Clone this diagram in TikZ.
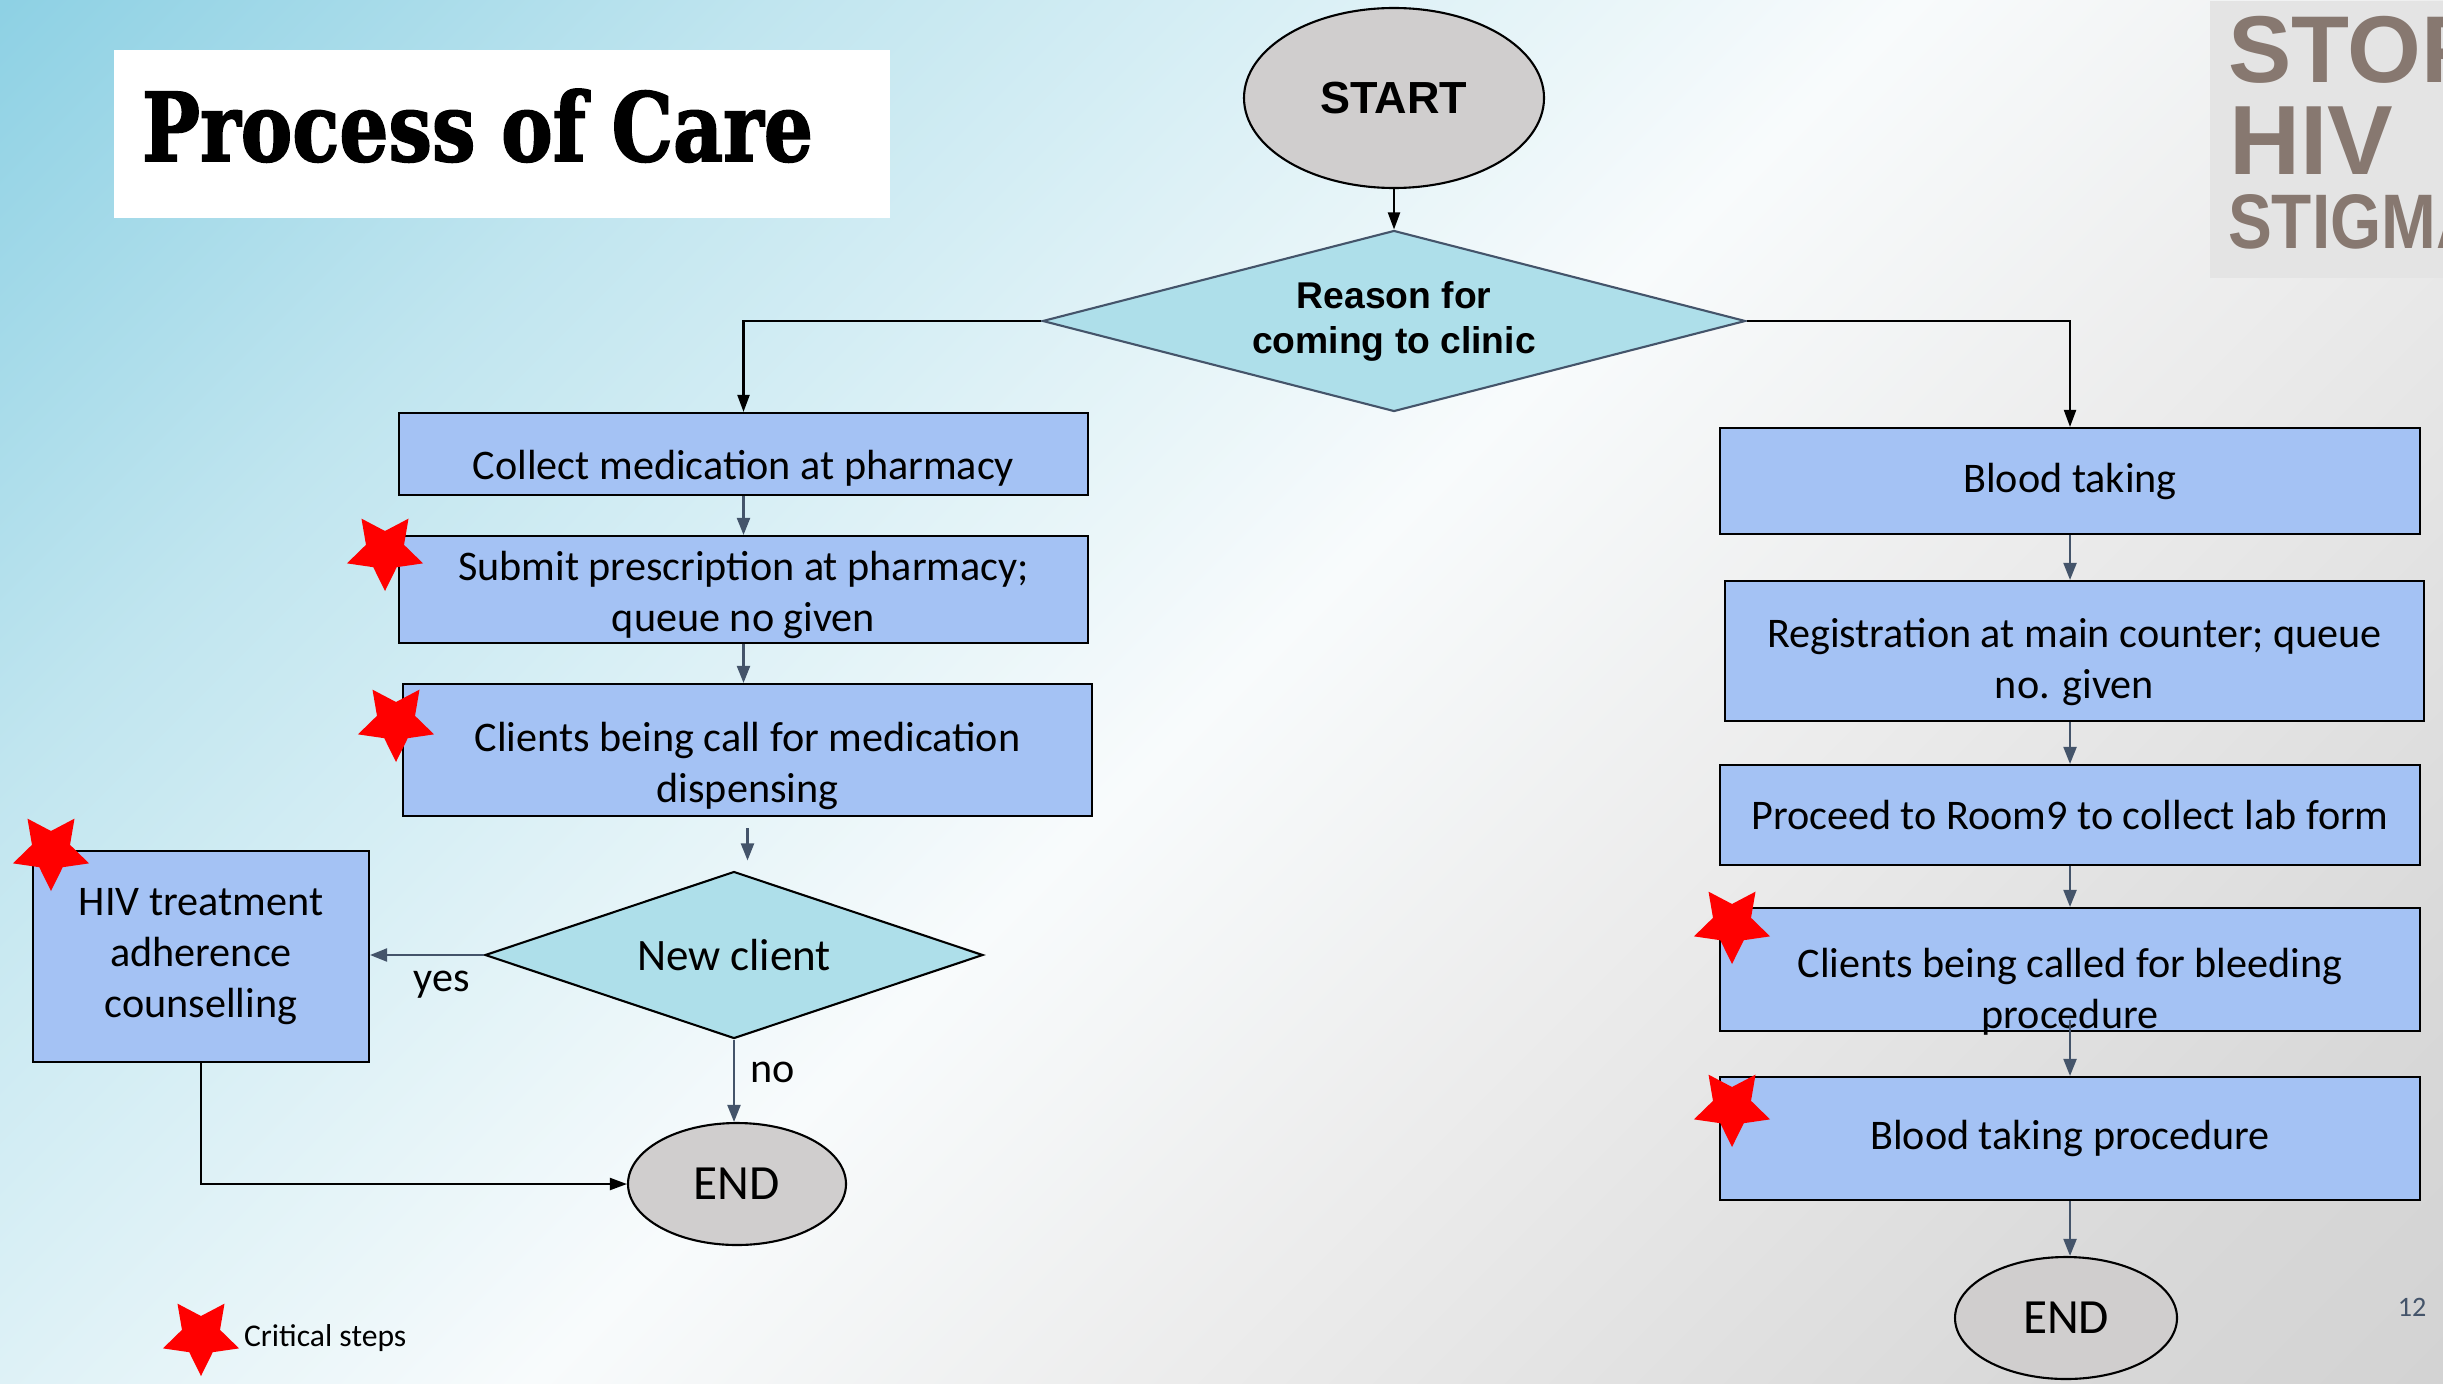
\documentclass[tikz,border=0pt]{standalone}
\usepackage{graphicx}
\usepackage{fontspec}
\setmainfont{Carlito}
\newfontfamily\arialfont{Liberation Sans}
\newfontfamily\titlefont{DejaVu Serif}[BoldFeatures={FakeBold=2}]
\usetikzlibrary{shapes.geometric,arrows.meta}
\definecolor{bgblue}{HTML}{8ED1E4}
\definecolor{bgbluelight}{HTML}{C0E5EF}
\definecolor{bgbluepale}{HTML}{D8EFF5}
\definecolor{bgwhite}{HTML}{F8FBFC}
\definecolor{bggreylight}{HTML}{ECECEC}
\definecolor{bggrey}{HTML}{D3D3D3}
\definecolor{boxblue}{HTML}{A4C2F4}
\definecolor{diamondcyan}{HTML}{AEDFEA}
\definecolor{endgrey}{HTML}{D0CECE}
\definecolor{slate}{HTML}{44546A}
\definecolor{logogrey}{HTML}{E4E4E4}
\definecolor{logobrown}{HTML}{877870}
\pgfdeclareverticalshading{slidebg}{100bp}{color(0bp)=(bggrey); color(14.6bp)=(bggrey); color(21.7bp)=(bggrey!80!bggreylight); color(38bp)=(bggreylight); color(50bp)=(bgwhite); color(62bp)=(bgbluepale); color(71.2bp)=(bgbluelight); color(85.4bp)=(bgblue); color(100bp)=(bgblue)}

\begin{document}
\begin{tikzpicture}[line width=0.6pt]
	\tikzset{
		stepbox/.style 2 args={draw=black, fill=boxblue, rectangle, minimum width=#1, minimum height=#2, inner sep=0pt, align=center, font=\fontsize{12}{14.5}\selectfont},
		steptext/.style={align=center, inner sep=0pt, font=\fontsize{12}{14.5}\selectfont},
		terminal/.style 2 args={draw=black, fill=endgrey, ellipse, minimum width=#1, minimum height=#2, inner sep=0pt},
		decision/.style 2 args={diamond, fill=diamondcyan, minimum width=#1, minimum height=#2, inner sep=0pt, aspect=3.5, align=center},
		critical/.style={star, star points=5, star point ratio=2.0, shape border rotate=180, fill=red, minimum size=0.8cm, inner sep=0pt},
		flow/.style={draw=slate, -{Triangle[length=0.17cm,width=0.13cm]}},
		mainflow/.style={draw=black, -{Triangle[length=0.17cm,width=0.12cm]}}
	}
	\useasboundingbox (0,0) rectangle (24.43,-13.83);
	\shade[shading=slidebg, shading angle=45] (0,0) rectangle (24.43,-13.83);
	
	\node[fill=white, minimum width=7.76cm, minimum height=1.68cm, inner xsep=0.28cm, text width=7.2cm, align=left, text depth=0.18cm] (title) at (5.02,-1.34) {\resizebox{6.71cm}{0.72cm}{\titlefont\bfseries Process of Care}};
	
	\begin{scope}
		\clip (22.09,0) rectangle (24.43,-2.77);
		\node[fill=logogrey, minimum width=2.34cm, minimum height=2.77cm, anchor=north west, inner sep=0pt] (logo) at (22.09,0) {};
		\node[anchor=base west, inner sep=0pt, text=logobrown, font=\arialfont\bfseries\fontsize{27}{27}\selectfont] (stop) at (22.27,-0.82) {STOP};
		\node[anchor=base west, inner sep=0pt, text=logobrown, font=\arialfont\bfseries\fontsize{28}{28}\selectfont] (hivlogo) at (22.28,-1.75) {HIV};
		\node[anchor=base west, inner sep=0pt, text=logobrown, font=\arialfont\bfseries\fontsize{22}{22}\selectfont] (stigma) at (22.27,-2.48) {\scalebox{0.85}[1]{STIGMA}};
	\end{scope}
	
	\node[terminal={3.00cm}{1.80cm}, font=\arialfont\bfseries\fontsize{12.8}{15}\selectfont] (start) at (13.94,-0.98) {START};
	\node[decision={7.03cm}{1.81cm}, draw=slate, font=\arialfont\bfseries\fontsize{10.6}{12.8}\selectfont] (reason) at (13.94,-3.21) {Reason for\\coming to clinic};
	
	\node[stepbox={6.89cm}{0.82cm}, label={[steptext, yshift=-0.14cm]center:Collect medication at pharmacy}] (collect) at (7.435,-4.54) {};
	\node[stepbox={6.89cm}{1.07cm}, label={[steptext, yshift=-0.05cm]center:{Submit prescription at pharmacy;\\queue no given}}] (submit) at (7.435,-5.895) {};
	\node[stepbox={6.89cm}{1.32cm}, label={[steptext, yshift=-0.16cm]center:{Clients being call for medication\\dispensing}}] (dispense) at (7.475,-7.50) {};
	\node[decision={4.98cm}{1.67cm}, draw=black, font=\fontsize{12.8}{15}\selectfont] (newclient) at (7.34,-9.55) {New client};
	\node[stepbox={3.36cm}{2.11cm}] (hiv) at (2.01,-9.565) {HIV treatment\\adherence\\counselling};
	\node[terminal={2.18cm}{1.22cm}, font=\fontsize{14}{16}\selectfont] (endleft) at (7.37,-11.84) {END};
	
	\node[stepbox={7.00cm}{1.06cm}] (blood) at (20.70,-4.81) {Blood taking};
	\node[stepbox={6.99cm}{1.40cm}, label={[steptext, yshift=-0.11cm]center:{Registration at main counter; queue\\no. given}}] (register) at (20.745,-6.51) {};
	\node[stepbox={7.00cm}{1.00cm}] (labform) at (20.70,-8.15) {Proceed to Room9 to collect lab form};
	\node[stepbox={7.00cm}{1.23cm}, label={[steptext, yshift=-0.22cm]center:{Clients being called for bleeding\\procedure}}] (bleeding) at (20.70,-9.695) {};
	\node[stepbox={7.00cm}{1.23cm}] (procedure) at (20.70,-11.385) {Blood taking procedure};
	\node[terminal={2.22cm}{1.22cm}, font=\fontsize{14}{16}\selectfont] (endright) at (20.66,-13.18) {END};
	
	\draw[mainflow] (start) -- (reason);
	\draw[mainflow] (reason.west) -| (collect.north);
	\draw[mainflow] (reason.east) -| (blood.north);
	
	\draw[flow] (collect) -- (submit);
	\draw[flow] (submit.south) -- (submit.south |- dispense.north);
	\draw[flow, shorten <=0.11cm, shorten >=0.1cm] (dispense.south) -- (dispense.south |- newclient.north);
	\draw[flow] (newclient.west) -- (newclient.west -| hiv.east);
	\draw[flow] (newclient.south) -- (newclient.south |- endleft.north);
	\draw[mainflow] (hiv.south) |- (endleft.west);
	\node[font=\fontsize{12}{14}\selectfont] (yes) at (4.42,-9.85) {yes};
	\node[font=\fontsize{12}{14}\selectfont] (no) at (7.73,-10.72) {no};
	
	\draw[flow] (blood.south) -- (blood.south |- register.north);
	\draw[flow] (labform.north |- register.south) -- (labform.north);
	\draw[flow] (labform) -- (bleeding);
	\draw[flow, shorten <=-0.12cm] (bleeding) -- (procedure);
	\draw[flow] (procedure.south) -- (procedure.south |- endright.north);
	
	\node[critical] (star1) at (3.85,-5.51) {};
	\node[critical] (star2) at (3.96,-7.22) {};
	\node[critical] (star3) at (0.51,-8.51) {};
	\node[critical] (star4) at (17.32,-9.24) {};
	\node[critical] (star5) at (17.32,-11.07) {};
	\node[critical] (star6) at (2.01,-13.36) {};
	\node[anchor=west, inner sep=0pt, font=\fontsize{9}{11}\selectfont] (legend) at (2.43,-13.38) {Critical steps};
	\node[text=slate, font=\fontsize{8}{10}\selectfont] (pagenum) at (24.12,-13.07) {12};
\end{tikzpicture}
\end{document}
